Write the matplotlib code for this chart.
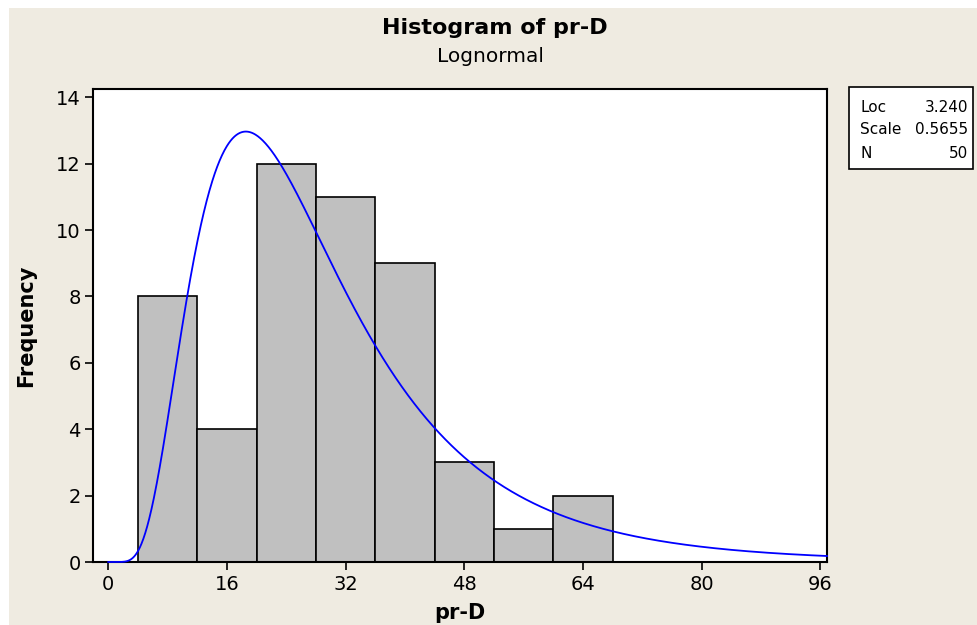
import numpy as np
import matplotlib
matplotlib.use("Agg")
import matplotlib.pyplot as plt
from matplotlib.patches import Rectangle

# Data
bin_edges = [4, 12, 20, 28, 36, 44, 52, 60, 68]
counts = [8, 4, 12, 11, 9, 3, 1, 2]
loc = 3.240
scale = 0.5655
n_obs = 50
x_ticks = [0, 16, 32, 48, 64, 80, 96]
y_ticks = [0, 2, 4, 6, 8, 10, 12, 14]

W, H = 977, 625
fig = plt.figure(figsize=(W / 100, H / 100), dpi=100)
fig.patch.set_facecolor("white")
bg = "#EFEBE1"
fig.patches.append(Rectangle((9 / W, 0), 1 - 9 / W, 1 - 8 / H, transform=fig.transFigure,
                             facecolor=bg, edgecolor="none", zorder=-10))

L, R, T, B = 93, 827, 89, 562
ax = fig.add_axes([L / W, (H - B) / H, (R - L) / W, (B - T) / H])
ax.set_facecolor("white")

widths = np.diff(bin_edges)
ax.bar(bin_edges[:-1], counts, width=widths, align="edge", color="#C0C0C0",
       edgecolor="black", linewidth=1.2, zorder=2)

xmin, xmax = -2.06, 96.9
bw = widths[0]
xs = np.linspace(0.01, xmax, 1500)
pdf = np.exp(-(np.log(xs) - loc) ** 2 / (2 * scale ** 2)) / (xs * scale * np.sqrt(2 * np.pi))
ax.plot(np.r_[0, xs], np.r_[0, n_obs * bw * pdf], color="#0000FF", linewidth=1.3, zorder=3,
        clip_on=False)

ax.set_xlim(xmin, xmax)
ax.set_ylim(0, 14.25)
ax.set_xticks(x_ticks)
ax.set_yticks(y_ticks)
ax.tick_params(axis="both", direction="out", length=6, width=1.2, labelsize=14,
               colors="black", pad=3)
for s in ax.spines.values():
    s.set_linewidth(1.5)
    s.set_color("black")

ax.set_xlabel("pr-D", fontsize=15, fontweight="bold", labelpad=7)
ax.set_ylabel("Frequency", fontsize=15, fontweight="bold", labelpad=14)

fig.text(495 / W, 1 - 28 / H, "Histogram of pr-D", ha="center", va="center",
         fontsize=16, fontweight="bold")
fig.text(490 / W, 1 - 56 / H, "Lognormal", ha="center", va="center", fontsize=14.5)

# Legend box
bx0, by0, bx1, by1 = 849, 87, 973, 169
fig.patches.append(Rectangle((bx0 / W, 1 - by1 / H), (bx1 - bx0) / W, (by1 - by0) / H,
                             transform=fig.transFigure, facecolor="white",
                             edgecolor="black", linewidth=1.2))
labels = ["Loc", "Scale", "N"]
values = [f"{loc:.3f}", f"{scale:.4f}", f"{n_obs}"]
for i, (lab, val) in enumerate(zip(labels, values)):
    yy = 1 - (107 + 23 * i) / H
    fig.text(860 / W, yy, lab, ha="left", va="center", fontsize=11)
    fig.text(968 / W, yy, val, ha="right", va="center", fontsize=11)

fig.savefig("out.png", dpi=100, facecolor=fig.get_facecolor())
